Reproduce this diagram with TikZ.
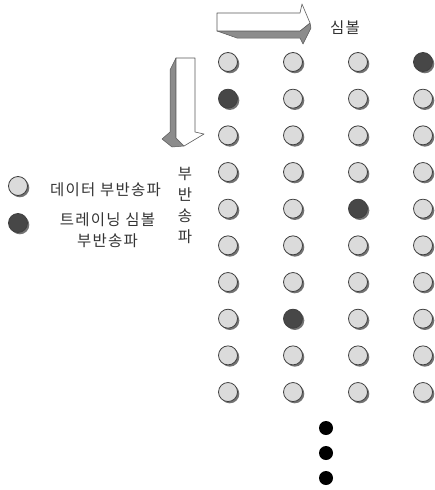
\documentclass[tikz,border=0pt]{standalone}
\usepackage{fontspec}
\setmainfont{Noto Sans CJK KR}[LetterSpace=8]
\usetikzlibrary{shadows}
\tikzset{
  subc/.style={circle,draw=black!75,line width=0.8pt,minimum size=19pt,inner sep=0pt,
    drop shadow={shadow xshift=1.8pt,shadow yshift=-1.8pt,fill=black!55,opacity=1}},
  datsc/.style={subc,fill=black!14},
  trnsc/.style={subc,fill=black!72},
  vdot/.style={circle,fill=black,minimum size=14pt,inner sep=0pt},
  lbl/.style={text=black!80,font=\fontsize{15.5}{21}\selectfont,inner sep=0pt},
  sideface/.style={fill=black!45,draw=black!65,line width=0.5pt,line join=round},
  frontface/.style={fill=white,draw=black!65,line width=0.6pt,line join=round}
}

\begin{document}
\begin{tikzpicture}[x=1pt,y=-1pt]
  \useasboundingbox (0,0) rectangle (434,490);
  % symbol direction arrow
  \filldraw[sideface] (217,31) -- (300,31) -- (310,23) -- (311,28) -- (303,44) -- (300,38) -- (237,38) -- cycle;
  \filldraw[frontface] (217,13) -- (300,13) -- (302,4) -- (310,23) -- (300,31) -- (217,31) -- cycle;
  \node[lbl] (sym) at (345,28) {심볼};
  % subcarrier direction arrow
  \filldraw[sideface] (176,58) -- (170,70) -- (170,132) -- (162,139) -- (172,147) -- (184,146) -- (176,138) -- cycle;
  \filldraw[frontface] (176,58) -- (195,58) -- (195,132) -- (204,134) -- (184,146) -- (176,138) -- cycle;
  \node[lbl,align=center] (subc) at (185,205) {부\\반\\송\\파};
  % legend
  \node[datsc] (leg_d) at (18,186) {};
  \node[lbl,anchor=west] (leg_dt) at (50,189.5) {데이터 부반송파};
  \node[trnsc] (leg_t) at (18,223) {};
  \node[lbl,align=center] (leg_tt) at (107.5,230) {트레이닝 심볼\\부반송파};
  % grid of subcarriers
  \foreach \kinds [count=\r] in {{datsc,datsc,datsc,trnsc},{trnsc,datsc,datsc,datsc},
      {datsc,datsc,datsc,datsc},{datsc,datsc,datsc,datsc},{datsc,datsc,trnsc,datsc},
      {datsc,datsc,datsc,datsc},{datsc,datsc,datsc,datsc},{datsc,trnsc,datsc,datsc},
      {datsc,datsc,datsc,datsc},{datsc,datsc,datsc,datsc}}
    \foreach \k [count=\c] in \kinds
      \node[\k] (sc-\r-\c) at ({228+(\c-1)*65},{62+(\r-1)*36.67}) {};
  % continuation dots
  \node[vdot] (dot_a) at (326,428) {};
  \node[vdot] (dot_b) at (326,453) {};
  \node[vdot] (dot_c) at (326,478) {};
\end{tikzpicture}
\end{document}
